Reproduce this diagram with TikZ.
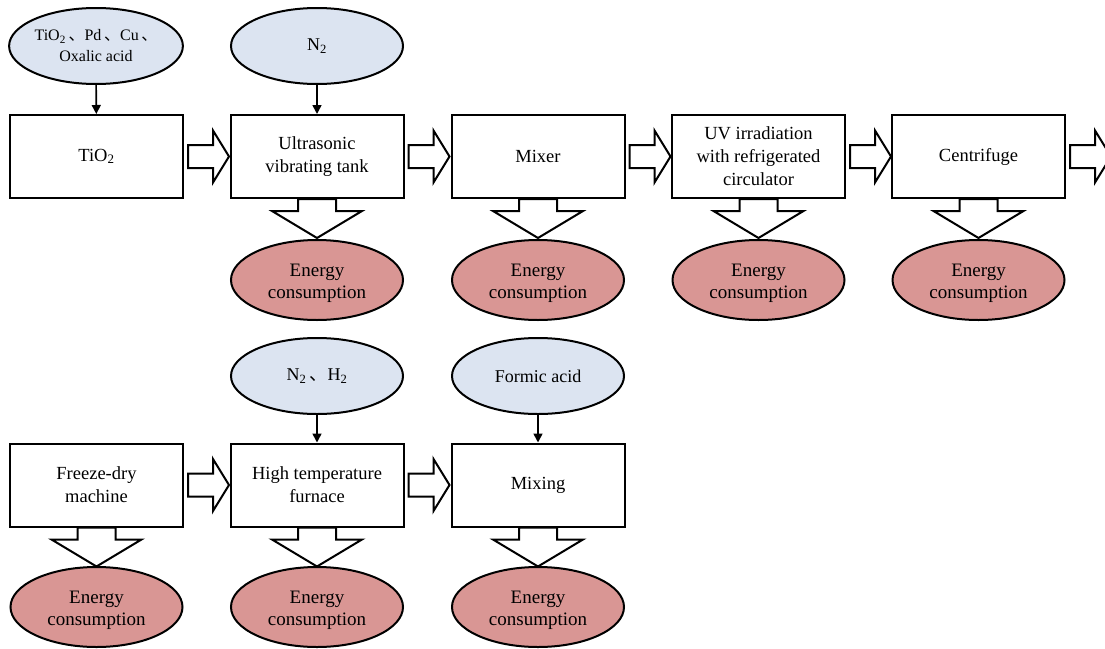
\documentclass[tikz,border=0pt]{standalone}
\usepackage{fontspec}
\setmainfont{Liberation Serif}
\newfontfamily\cjk{Noto Sans CJK SC}
\usetikzlibrary{shapes.geometric, arrows.meta, calc}

\definecolor{inblue}{RGB}{220,228,241}
\definecolor{enred}{RGB}{217,150,148}

\newcommand{\dun}{\,{\cjk 、}}

\tikzset{
  unit/.style={draw, line width=2pt, fill=white, minimum width=173pt, minimum height=83pt,
    align=center, font=\fontsize{18.5}{23}\selectfont},
  feed/.style={ellipse, draw, line width=2pt, fill=inblue, minimum width=172pt, minimum height=76pt,
    inner sep=0pt, align=center, font=\fontsize{18}{21}\selectfont},
  energy/.style={ellipse, draw, line width=2pt, fill=enred, minimum width=172pt, minimum height=80pt,
    inner sep=0pt, align=center, font=\fontsize{19}{22}\selectfont,
    execute at begin node={\rule{0pt}{42pt}}},
  flow/.style={draw, line width=2pt, fill=white, line join=miter},
  feedline/.style={-{Triangle[length=9pt,width=9pt]}, line width=1.6pt}
}

% block arrow to the right of a box
\newcommand{\sidearrow}[1]{%
  \draw[flow] ($(#1.east)+(4,-11.5)$) -- ++(25,0) -- ++(0,-14.5) -- ++(16,26)
    -- ++(-16,26) -- ++(0,-14.5) -- ++(-25,0) -- cycle;}
% block arrow down to the energy ellipse
\newcommand{\lossarrow}[1]{%
  \draw[flow] ($(#1.south)+(-19,0)$) -- ++(0,12) -- ++(-26,0) -- ++(45,27)
    -- ++(45,-27) -- ++(-26,0) -- ++(0,-12) -- cycle;}

\begin{document}
\begin{tikzpicture}[x=1pt, y=-1pt]
  \useasboundingbox (0,0) rectangle (1105,648);
  \clip (0,0) rectangle (1105,648);

  % first line
  \node[feed, font=\fontsize{16}{21}\selectfont] (in1) at (96,46) {TiO\textsubscript{2}\dun Pd\dun Cu\dun\\Oxalic acid};
  \node[feed] (in2) at (317,46) {N\textsubscript{2}};

  \node[unit] (tio) at (96.5,156.5) {TiO\textsubscript{2}};
  \node[unit] (tank) at (317,156.5) {Ultrasonic\\vibrating tank};
  \node[unit] (mixer) at (538,156.5) {Mixer};
  \node[unit] (uv) at (758.5,156.5) {UV irradiation\\with refrigerated\\circulator};
  \node[unit] (cent) at (978.5,156.5) {Centrifuge};

  \draw[feedline] (in1) -- (tio);
  \draw[feedline] (in2) -- (tank);

  \sidearrow{tio}
  \sidearrow{tank}
  \sidearrow{mixer}
  \sidearrow{uv}
  \sidearrow{cent}

  \lossarrow{tank}
  \lossarrow{mixer}
  \lossarrow{uv}
  \lossarrow{cent}

  \node[energy] (e2) at (317,280) {Energy\\consumption};
  \node[energy] (e3) at (538,280) {Energy\\consumption};
  \node[energy] (e4) at (758.5,280) {Energy\\consumption};
  \node[energy] (e5) at (978.5,280) {Energy\\consumption};

  % second line
  \node[feed] (in3) at (317,376) {N\textsubscript{2}\dun H\textsubscript{2}};
  \node[feed] (in4) at (538,376) {Formic acid};

  \node[unit] (dryer) at (96.5,485) {Freeze-dry\\machine};
  \node[unit] (furnace) at (317,485) {High temperature\\furnace};
  \node[unit] (mixing) at (538,485) {Mixing};

  \draw[feedline] (in3) -- (furnace);
  \draw[feedline] (in4) -- (mixing);

  \sidearrow{dryer}
  \sidearrow{furnace}

  \lossarrow{dryer}
  \lossarrow{furnace}
  \lossarrow{mixing}

  \node[energy] (e6) at (96.5,607) {Energy\\consumption};
  \node[energy] (e7) at (317,607) {Energy\\consumption};
  \node[energy] (e8) at (538,607) {Energy\\consumption};
\end{tikzpicture}
\end{document}
